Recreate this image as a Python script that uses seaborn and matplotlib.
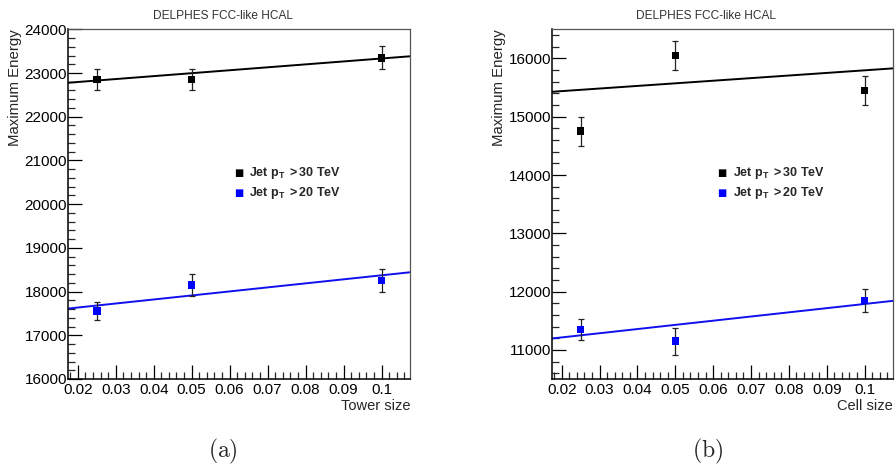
import numpy as np
import pandas as pd
import matplotlib
matplotlib.use("Agg")
import matplotlib.pyplot as plt
from matplotlib.ticker import MultipleLocator
import seaborn as sns

# ---- data ----
sizes = [0.025, 0.05, 0.1]

# panel (a): Tower size
a_e30 = [22850, 22850, 23350]
a_e30_err = [250, 250, 260]
a_e20 = [17550, 18150, 18250]
a_e20_err = [200, 250, 255]
a_fit30 = (22660, 6720)   # intercept, slope
a_fit20 = (17450, 9220)

# panel (b): Cell size
b_e30 = [14750, 16050, 15450]
b_e30_err = [250, 250, 250]
b_e20 = [11350, 11150, 11850]
b_e20_err = [180, 230, 200]
b_fit30 = (15350, 4460)
b_fit20 = (11070, 7170)

xlabels = ["Tower size", "Cell size"]
ylims = [(16000, 24000), (10500, 16500)]
xlim = (0.0175, 0.1075)
title = "DELPHES FCC-like HCAL"
legend_labels = [r"$\mathbf{Jet\ p_{T}\ >30\ TeV}$", r"$\mathbf{Jet\ p_{T}\ >20\ TeV}$"]
subcaps = ["(a)", "(b)"]

sns.set_style("ticks")
plt.rcParams["font.family"] = ["Liberation Sans", "DejaVu Sans"]
plt.rcParams["mathtext.fontset"] = "custom"
plt.rcParams["mathtext.rm"] = "Liberation Sans"
plt.rcParams["mathtext.bf"] = "Liberation Sans:bold"
plt.rcParams["mathtext.it"] = "Liberation Sans:italic"

fig = plt.figure(figsize=(8.96, 4.68), dpi=100)
ax_pos = [[0.0762, 0.1902, 0.3814, 0.7472], [0.6164, 0.1902, 0.3802, 0.7472]]

panels = [
    (a_e30, a_e30_err, a_e20, a_e20_err, a_fit30, a_fit20),
    (b_e30, b_e30_err, b_e20, b_e20_err, b_fit30, b_fit20),
]
title_x = [222.7 / 896, 706 / 896]
sub_x = [222.7 / 896, 708 / 896]

for i, (e30, e30e, e20, e20e, f30, f20) in enumerate(panels):
    ax = fig.add_axes(ax_pos[i])
    ax.set_xlim(*xlim)
    ax.set_ylim(*ylims[i])
    df = pd.DataFrame({
        "size": sizes * 2,
        "energy": e30 + e20,
        "err": e30e + e20e,
        "series": ["30"] * 3 + ["20"] * 3,
    })
    # fit lines across the full axis range
    xs = np.array(xlim)
    fit_df = pd.DataFrame({
        "x": list(xs) * 2,
        "y": list(f30[0] + f30[1] * xs) + list(f20[0] + f20[1] * xs),
        "series": ["30"] * 2 + ["20"] * 2,
    })
    sns.lineplot(data=fit_df, x="x", y="y", hue="series",
                 palette={"30": "black", "20": "#1010ee"}, ax=ax,
                 legend=False, linewidth=1.4)
    ax.errorbar(df["size"], df["energy"], yerr=df["err"], fmt="none",
                ecolor="#222222", elinewidth=0.9, capsize=2.2, capthick=0.9, zorder=3)
    sns.scatterplot(data=df, x="size", y="energy", hue="series",
                    palette={"30": "black", "20": "#0000ff"}, marker="s",
                    s=30, edgecolor="none", ax=ax, legend=False, zorder=4)

    # ROOT-like axes
    ax.xaxis.set_minor_locator(MultipleLocator(0.002))
    ax.yaxis.set_major_locator(MultipleLocator(1000))
    ax.yaxis.set_minor_locator(MultipleLocator(200))
    ax.set_xticks(np.arange(0.02, 0.1001, 0.01))
    ax.set_xticklabels(["0.02", "0.03", "0.04", "0.05", "0.06", "0.07", "0.08", "0.09", "0.1"])
    ax.tick_params(axis="both", which="major", direction="in", length=10, width=0.9,
                   labelsize=11, colors="black", pad=2)
    ax.tick_params(axis="both", which="minor", direction="in", length=5, width=0.9)
    ax.tick_params(axis="y", which="both", left=True, right=False)
    ax.tick_params(axis="x", which="both", bottom=True, top=False)
    ax.tick_params(axis="y", pad=1)
    ax.tick_params(axis="x", pad=3)
    for s in ["left", "bottom"]:
        ax.spines[s].set_color("black")
        ax.spines[s].set_linewidth(1.1)
    for s in ["right", "top"]:
        ax.spines[s].set_visible(True)
        ax.spines[s].set_color("#555555")
        ax.spines[s].set_linewidth(0.9)
    ax.set_xlabel(xlabels[i], fontsize=10.5, loc="right", labelpad=1)
    ax.set_ylabel("Maximum Energy", fontsize=10.8, loc="top", labelpad=2)

    # legend (ROOT style, no frame)
    leg_x = [238.7, 722][i]
    leg_y = [172.7, 193.3]
    cols = ["black", "#0000ff"]
    for k in range(2):
        yf = 1 - leg_y[k] / 468
        fig.text(leg_x / 896, yf, "\u25a0", color=cols[k], fontsize=7,
                 ha="center", va="center", family="DejaVu Sans")
        fig.text((leg_x + 10.5) / 896, yf, legend_labels[k], fontsize=9,
                 ha="left", va="center")

    fig.text(title_x[i], 1 - 16 / 468, title, fontsize=8.6, ha="center",
             va="center", color="#333333")
    fig.text(sub_x[i], 1 - 451.5 / 468, r"$\mathrm{" + subcaps[i] + "}$", fontsize=17,
             ha="center", va="center", math_fontfamily="cm")

fig.savefig("out.png", dpi=100)
